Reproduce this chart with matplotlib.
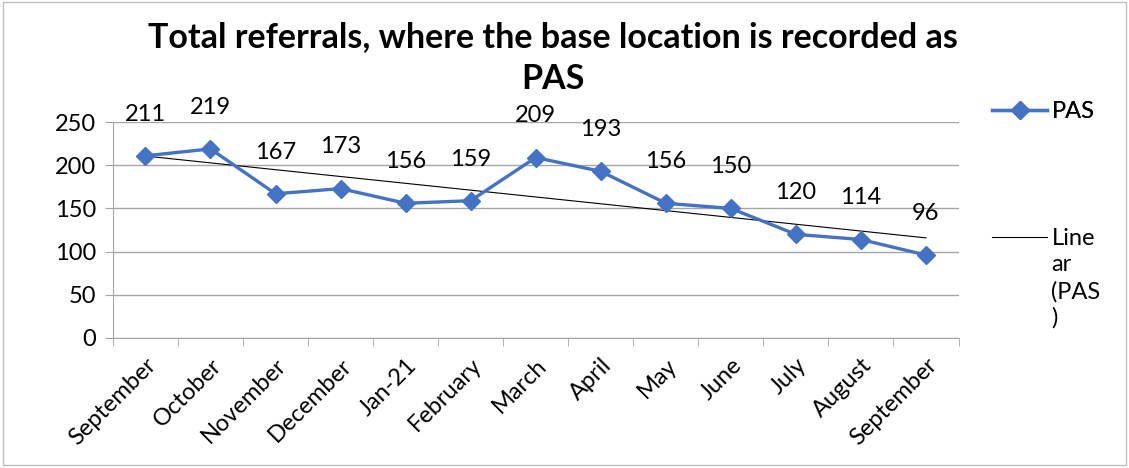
import matplotlib.pyplot as plt
import numpy as np
from matplotlib.legend_handler import HandlerLine2D
from matplotlib.patches import Rectangle

plt.rcParams["font.family"] = ["Lato", "DejaVu Sans"]

months = ["September", "October", "November", "December", "Jan-21", "February",
          "March", "April", "May", "June", "July", "August", "September"]
referrals = [211, 219, 167, 173, 156, 159, 209, 193, 156, 150, 120, 114, 96]
title = "Total referrals, where the base location is recorded as\nPAS"

blue = "#4472C4"
grid_col = "#A6A6A6"
fs = 17


class FirstLineHandler(HandlerLine2D):
    # put the legend line level with the first line of a wrapped label
    def __init__(self, shift, **kw):
        super().__init__(**kw)
        self.shift = shift

    def create_artists(self, legend, orig_handle, xdescent, ydescent, width, height,
                       fontsize, trans):
        return super().create_artists(legend, orig_handle, xdescent,
                                      ydescent - 2 * self.shift, width, height,
                                      fontsize, trans)


fig = plt.figure(figsize=(11.29, 4.68), dpi=100)
ax = fig.add_axes([0.100, 0.278, 0.749, 0.461])

x = np.arange(len(months))
pas_line, = ax.plot(x, referrals, color=blue, lw=2.4, marker="D", markersize=9,
                    zorder=3, label="PAS")

# linear trend line, as Excel draws it
slope, intercept = np.polyfit(x, referrals, 1)
trend_line, = ax.plot(x, slope * x + intercept, color="black", lw=0.8, zorder=2,
                      label="Line\nar\n(PAS\n)")

for xi, v in zip(x, referrals):
    ax.annotate(str(v), (xi, v), xytext=(0, 30), textcoords="offset points",
                ha="center", va="center", fontsize=fs)

ax.set_xlim(-0.5, len(months) - 0.5)
ax.set_ylim(0, 250)
ax.set_yticks(range(0, 251, 50))
ax.set_xticks(x)
ax.set_xticklabels(months, rotation=45, ha="right", rotation_mode="anchor", fontsize=fs)
ax.set_xticks(np.arange(-0.5, len(months)), minor=True)
ax.tick_params(axis="x", which="major", length=0, pad=12)
ax.tick_params(axis="x", which="minor", length=6, color=grid_col, direction="out")
ax.tick_params(axis="y", length=6, color=grid_col, labelsize=fs, pad=6)

ax.grid(axis="y", color=grid_col, lw=1)
ax.set_axisbelow(True)
for side in ["top", "right"]:
    ax.spines[side].set_visible(False)
for side in ["left", "bottom"]:
    ax.spines[side].set_color(grid_col)

fig.text(0.49, 0.876, title, ha="center", va="center", fontsize=24.5,
         fontweight="bold", linespacing=1.38)

leg1 = fig.legend(handles=[pas_line], loc="center left", bbox_to_anchor=(0.879, 0.761),
                  frameon=False, fontsize=fs, handlelength=2.3, handletextpad=0.2,
                  borderpad=0, borderaxespad=0)
leg2 = fig.legend(handles=[trend_line], loc="upper left", bbox_to_anchor=(0.879, 0.512),
                  frameon=False, fontsize=fs, handlelength=2.3, handletextpad=0.2,
                  borderpad=0, borderaxespad=0, labelspacing=0,
                  handler_map={trend_line: FirstLineHandler(30)})
leg2.get_texts()[0].set_linespacing(1.3)
fig.add_artist(leg1)

fig.patches.append(Rectangle((0.003, 0.006), 0.994, 0.99, transform=fig.transFigure,
                             fill=False, edgecolor="#BFBFBF", lw=1))

fig.savefig("out.png", dpi=100)
